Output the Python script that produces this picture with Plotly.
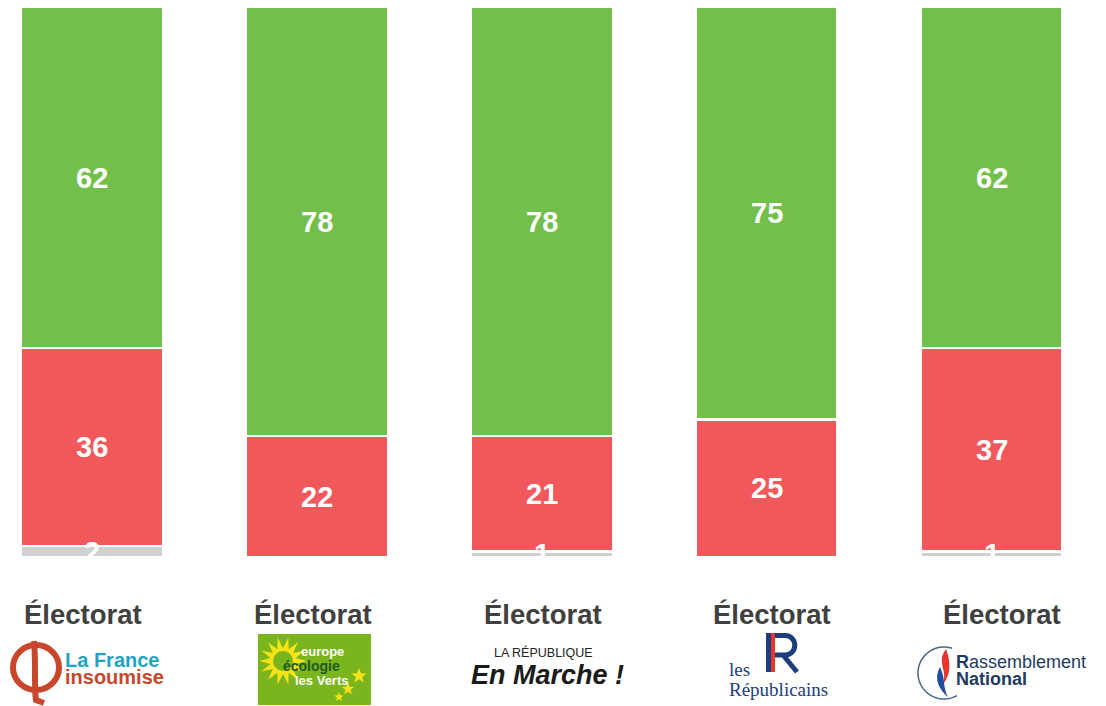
import math
import plotly.graph_objects as go

# ---------------- data ----------------
parties = ["La France insoumise", "EELV", "LREM", "LR", "RN"]
category_label = "Électorat"
gray_vals = [2, 0, 1, 0, 1]
red_vals = [36, 22, 21, 25, 37]
green_vals = [62, 78, 78, 75, 62]

GREEN = "#72bf4b"
RED = "#f1585c"
GRAY = "#d0d0d0"

W, H = 1106, 706

# pixel layout helpers (figure has zero margins)
c0, step = 92.0, 224.9          # first bar centre / spacing in px
bar_px = 142.0
ytop_px, ybot_px = 7.0, 557.0
label_x_px = [83, 313, 543, 772, 1002]   # centres of the "Électorat" captions


def px(x):
    return x / W


def py(y):
    return 1 - y / H


def path(points, close=True):
    s = "M " + " L ".join(f"{px(x):.5f},{py(y):.5f}" for x, y in points)
    return s + (" Z" if close else "")


def cpath(cmds):
    """cmds: list of (letter, [(x,y),...]) in pixels"""
    out = []
    for letter, pts in cmds:
        if letter == "Z":
            out.append("Z")
        else:
            out.append(letter + " " + " ".join(f"{px(x):.5f},{py(y):.5f}" for x, y in pts))
    return " ".join(out)


xs = list(range(len(parties)))
fig = go.Figure()
for vals, col in [(gray_vals, GRAY), (red_vals, RED), (green_vals, GREEN)]:
    fig.add_trace(go.Bar(
        x=xs, y=vals, marker=dict(color=col, line=dict(color="white", width=2.5)),
        width=bar_px / step, hoverinfo="skip", showlegend=False,
    ))

annotations = []
# value labels, centred in each segment
for i in xs:
    base = 0
    for vals in (gray_vals, red_vals, green_vals):
        v = vals[i]
        if v > 0:
            annotations.append(dict(
                x=i, y=base + v / 2, xref="x", yref="y", text=f"<b>{v}</b>",
                showarrow=False, font=dict(family="Liberation Sans, Arial", size=29, color="white"),
                xanchor="center", yanchor="middle"))
        base += v


def txt(x, y, text, size, color, family="Liberation Sans, Arial", anchor="center"):
    annotations.append(dict(x=px(x), y=py(y), xref="paper", yref="paper", text=text,
                            showarrow=False, xanchor=anchor, yanchor="middle", borderpad=0,
                            font=dict(family=family, size=size, color=color)))


# category captions
for i in xs:
    txt(label_x_px[i], 614, f"<b>{category_label}</b>", 27.5, "#404040")

shapes = []

# ---- La France insoumise logo ----
LFI_RED = "#c8472b"
LFI_BLUE = "#1fa3c4"
shapes.append(dict(type="circle", xref="paper", yref="paper",
                   x0=px(13), x1=px(59), y0=py(690), y1=py(645),
                   line=dict(color=LFI_RED, width=6)))
shapes.append(dict(type="path", xref="paper", yref="paper",
                   path=cpath([("M", [(34, 641)]), ("C", [(36, 660), (34, 690), (36, 700)]),
                               ("L", [(44, 703)])]),
                   line=dict(color=LFI_RED, width=6)))
txt(64, 660, "<b>La France</b>", 20, LFI_BLUE, anchor="left")
txt(64, 677, "<b>insoumise</b>", 20, LFI_RED, anchor="left")

# ---- EELV logo ----
EE_GREEN = "#7bb51d"
shapes.append(dict(type="rect", xref="paper", yref="paper",
                   x0=px(258), x1=px(371), y0=py(705), y1=py(634),
                   fillcolor=EE_GREEN, line=dict(width=0)))
cx, cy = 283, 661
pts = []
for k in range(28):
    r = 24 if k % 2 == 0 else 13
    a = math.pi * 2 * k / 28
    pts.append((cx + r * math.cos(a), cy + r * math.sin(a)))
shapes.append(dict(type="path", xref="paper", yref="paper", path=path(pts),
                   fillcolor="#f4e21a", line=dict(width=0)))
shapes.append(dict(type="circle", xref="paper", yref="paper",
                   x0=px(cx - 10), x1=px(cx + 10), y0=py(cy + 10), y1=py(cy - 10),
                   fillcolor=EE_GREEN, line=dict(width=0)))


def star(cx, cy, r):
    p = []
    for k in range(10):
        rr = r if k % 2 == 0 else r * 0.42
        a = -math.pi / 2 + math.pi * k / 5
        p.append((cx + rr * math.cos(a), cy + rr * math.sin(a)))
    return path(p)


for (sx, sy, sr) in [(359, 676, 8), (348, 689, 6.5), (339, 697, 5)]:
    shapes.append(dict(type="path", xref="paper", yref="paper", path=star(sx, sy, sr),
                       fillcolor="#f4e21a", line=dict(width=0)))
txt(322, 651, "<b>europe</b>", 13, "white")
txt(311, 666, "<b>écologie</b>", 14, "#1d5a1a")
txt(322, 680, "<b>les Verts</b>", 13, "white")

# ---- LREM logo ----
txt(543, 652, "LA RÉPUBLIQUE", 12.5, "#222222")
txt(547, 675, "<b><i>En Marche !</i></b>", 27, "#1a1a1a")

# ---- LR logo ----
LR_BLUE = "#1b3d7b"
shapes.append(dict(type="rect", xref="paper", yref="paper",
                   x0=px(766), x1=px(771), y0=py(672), y1=py(633),
                   fillcolor=LR_BLUE, line=dict(width=0)))
shapes.append(dict(type="rect", xref="paper", yref="paper",
                   x0=px(771), x1=px(775), y0=py(672), y1=py(633),
                   fillcolor="#e8352b", line=dict(width=0)))
shapes.append(dict(type="path", xref="paper", yref="paper",
                   path=cpath([("M", [(775, 635.5)]), ("L", [(785, 635.5)]),
                               ("C", [(798, 635.5), (798, 655), (785, 655)]),
                               ("L", [(775, 655)]),
                               ("M", [(783, 655)]), ("L", [(797, 672)])]),
                   line=dict(color=LR_BLUE, width=5)))
txt(728, 669, "les", 19, LR_BLUE, family="Liberation Serif, Times New Roman", anchor="left")
txt(728, 689, "Républicains", 19, LR_BLUE, family="Liberation Serif, Times New Roman", anchor="left")

# ---- RN logo ----
RN_NAVY = "#1f3b62"
ccx, ccy, cr = 944, 673, 26
arc = []
for k in range(0, 61):
    a = math.radians(72 + (300 - 72) * k / 60)
    arc.append((ccx + cr * math.cos(a), ccy - cr * math.sin(a)))
shapes.append(dict(type="path", xref="paper", yref="paper", path=path(arc, close=False),
                   line=dict(color="#4b6584", width=1.5)))
shapes.append(dict(type="path", xref="paper", yref="paper",
                   path=cpath([("M", [(946, 649)]), ("C", [(936, 662), (948, 670), (943, 684)]),
                               ("C", [(951, 675), (951, 662), (946, 649)]), ("Z", [])]),
                   fillcolor="#e5362f", line=dict(width=0)))
shapes.append(dict(type="path", xref="paper", yref="paper",
                   path=cpath([("M", [(940, 667)]), ("C", [(933, 680), (940, 690), (948, 697)]),
                               ("C", [(943, 688), (945, 680), (942, 672)]), ("Z", [])]),
                   fillcolor="#1f4e9c", line=dict(width=0)))
txt(955, 662, "<b>R</b>assemblement", 18, RN_NAVY, anchor="left")
txt(955, 679, "<b>National</b>", 18, RN_NAVY, anchor="left")

fig.update_layout(
    barmode="stack",
    width=W, height=H,
    margin=dict(l=0, r=0, t=0, b=0),
    paper_bgcolor="white", plot_bgcolor="white",
    xaxis=dict(range=[-c0 / step, (W - c0) / step], visible=False, fixedrange=True),
    yaxis=dict(range=[0, 100], domain=[py(ybot_px), py(ytop_px)], visible=False, fixedrange=True),
    annotations=annotations,
    shapes=shapes,
)

fig.write_html(
    "out.html",
    config={"displayModeBar": False},
    post_script="document.body.style.margin='0';document.body.style.overflow='hidden';",
)
